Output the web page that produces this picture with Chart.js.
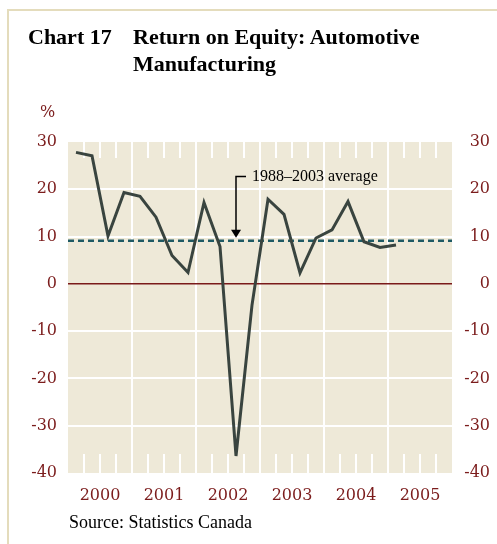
<!DOCTYPE html>
<html>
<head>
<meta charset="utf-8">
<script src="https://cdn.jsdelivr.net/npm/chart.js@4/dist/chart.umd.min.js"></script>
<style>
  body { margin: 0; background: #fff; }
  #wrap { position: relative; width: 497px; height: 544px; overflow: hidden; }
  #frame { position: absolute; left: 7px; top: 9px; right: -5px; bottom: -5px;
           border-top: 2px solid #e4dcbc; border-left: 2px solid #e4dcbc; }
  canvas { position: absolute; left: 0; top: 0; }
  .t { position: absolute; font-family: "Liberation Serif", serif; font-weight: bold;
       font-size: 22px; line-height: 26.5px; color: #000; white-space: nowrap; }
  #pct { position: absolute; left: 40px; top: 104px; font-family: "DejaVu Serif", serif;
         font-size: 16px; line-height: 1; color: #7b1c1c; }
  #src { position: absolute; left: 69px; top: 513px; font-family: "Liberation Serif", serif;
         font-size: 18px; line-height: 1; color: #000; }
</style>
</head>
<body>
<div id="wrap">
  <div id="frame"></div>
  <canvas id="roe" width="497" height="544"></canvas>
  <div class="t" style="left:28px; top:24px;">Chart 17</div>
  <div class="t" style="left:133px; top:24px;">Return on Equity: Automotive<br>Manufacturing</div>
  <div id="pct">%</div>
  <div id="src">Source: Statistics Canada</div>
</div>
<script>
// 四半期 (2000Q1〜2005Q1)
const quarters = ['2000Q1','2000Q2','2000Q3','2000Q4','2001Q1','2001Q2','2001Q3','2001Q4',
                  '2002Q1','2002Q2','2002Q3','2002Q4','2003Q1','2003Q2','2003Q3','2003Q4',
                  '2004Q1','2004Q2','2004Q3','2004Q4','2005Q1'];
// 自己資本利益率 (%)
const roe = [27.8, 27.1, 10.1, 19.3, 18.5, 14.1, 6.0, 2.4,
             17.2, 7.9, -36.4, -4.5, 17.9, 14.7, 2.3, 9.7,
             11.4, 17.4, 8.9, 7.7, 8.2];
// 1988〜2003年平均
const average = 9.1;
const averageLabel = '1988\u20132003 average';
// 軸ラベル
const years = ['2000', '2001', '2002', '2003', '2004', '2005'];
const yTicks = [30, 20, 10, 0, -10, -20, -30, -40];

const quartersPerYear = 4;
const xMax = years.length * quartersPerYear;
const labelRed = '#7b1c1c';
const tickFont = { family: 'DejaVu Serif', size: 16 };

// 背景・四半期目盛・ゼロ線・注記
const decor = {
    id: 'decor',
    beforeDraw(chart) {
        const { ctx, chartArea: a } = chart;
        ctx.save();
        ctx.fillStyle = '#eee9d8';
        ctx.fillRect(a.left, a.top, a.right - a.left, a.bottom - a.top);
        ctx.restore();
    },
    beforeDatasetsDraw(chart) {
        const { ctx, chartArea: a, scales } = chart;
        ctx.save();
        ctx.strokeStyle = '#ffffff';
        ctx.lineWidth = 2;
        for (let v = 1; v < xMax; v++) {
            if (v % quartersPerYear === 0) continue;
            const px = scales.x.getPixelForValue(v);
            ctx.beginPath();
            ctx.moveTo(px, a.top); ctx.lineTo(px, a.top + 16);
            ctx.moveTo(px, a.bottom - 19); ctx.lineTo(px, a.bottom);
            ctx.stroke();
        }
        const y0 = scales.y.getPixelForValue(0);
        ctx.strokeStyle = '#7a1a1a';
        ctx.lineWidth = 1.5;
        ctx.beginPath();
        ctx.moveTo(a.left, y0); ctx.lineTo(a.right, y0);
        ctx.stroke();
        ctx.restore();
    },
    afterDatasetsDraw(chart) {
        const { ctx, scales } = chart;
        const xa = scales.x.getPixelForValue(10.5);
        const yTop = scales.y.getPixelForValue(22.7);
        const tip = scales.y.getPixelForValue(average) - 3;
        ctx.save();
        ctx.strokeStyle = '#000';
        ctx.fillStyle = '#000';
        ctx.lineWidth = 1.5;
        ctx.beginPath();
        ctx.moveTo(xa + 10, yTop);
        ctx.lineTo(xa, yTop);
        ctx.lineTo(xa, tip - 7);
        ctx.stroke();
        ctx.beginPath();
        ctx.moveTo(xa - 5, tip - 8);
        ctx.lineTo(xa + 5, tip - 8);
        ctx.lineTo(xa, tip);
        ctx.closePath();
        ctx.fill();
        ctx.font = '16px "Liberation Serif"';
        ctx.textBaseline = 'middle';
        ctx.fillText(averageLabel, xa + 16, yTop);
        ctx.restore();
    }
};

const ctx = document.getElementById('roe').getContext('2d');
new Chart(ctx, {
    type: 'line',
    data: {
        datasets: [{
            label: 'ROE',
            data: roe.map((v, i) => ({ x: i + 0.5, y: v })),
            borderColor: '#39443f',
            borderWidth: 3,
            pointRadius: 0,
            tension: 0
        }, {
            label: averageLabel,
            data: [{ x: 0, y: average }, { x: xMax, y: average }],
            borderColor: '#1f5a64',
            borderWidth: 2.5,
            borderDash: [6, 4],
            pointRadius: 0
        }]
    },
    options: {
        responsive: false,
        animation: false,
        layout: { padding: { left: 0, right: 7, top: 142, bottom: 0 } },
        scales: {
            x: {
                type: 'linear',
                min: 0,
                max: xMax,
                afterFit(scale) { scale.height = 71; },
                ticks: {
                    stepSize: 1,
                    autoSkip: false,
                    maxRotation: 0,
                    padding: 13,
                    color: labelRed,
                    font: tickFont,
                    callback: v => (v % quartersPerYear === 2 ? years[(v - 2) / quartersPerYear] : '')
                },
                grid: {
                    drawTicks: false,
                    lineWidth: 2,
                    color: c => (c.tick && c.tick.value % quartersPerYear === 0 &&
                                 c.tick.value > 0 && c.tick.value < xMax ? '#ffffff' : 'rgba(0,0,0,0)')
                },
                border: { display: false }
            },
            y: {
                min: -40,
                max: 30,
                afterFit(scale) { scale.width = 68; },
                afterBuildTicks(scale) { scale.ticks = yTicks.map(v => ({ value: v })); },
                ticks: { padding: 11, color: labelRed, font: tickFont },
                grid: {
                    drawTicks: false,
                    lineWidth: 2,
                    color: c => (c.tick && c.tick.value !== 0 && c.tick.value !== 30 &&
                                 c.tick.value !== -40 ? '#ffffff' : 'rgba(0,0,0,0)')
                },
                border: { display: false }
            },
            y2: {
                position: 'right',
                min: -40,
                max: 30,
                afterFit(scale) { scale.width = 38; },
                afterBuildTicks(scale) { scale.ticks = yTicks.map(v => ({ value: v })); },
                ticks: { crossAlign: 'far', color: labelRed, font: tickFont },
                grid: { display: false, drawTicks: false },
                border: { display: false }
            }
        },
        plugins: {
            legend: { display: false },
            tooltip: { enabled: false }
        }
    },
    plugins: [decor]
});
</script>
</body>
</html>
